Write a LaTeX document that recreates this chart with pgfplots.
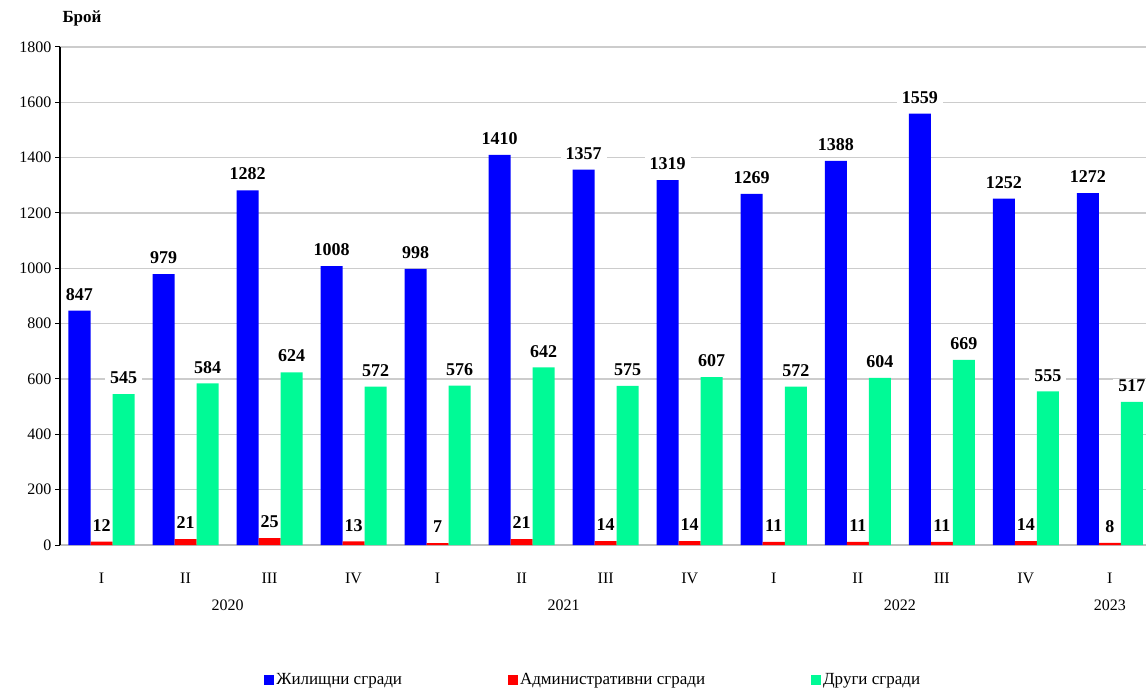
\documentclass[border=0pt]{standalone}
\usepackage{fontspec}
\setmainfont{Liberation Serif}
\usepackage{pgfplots}
\pgfplotsset{compat=1.18}
\definecolor{cBlue}{RGB}{0,0,255}
\definecolor{cRed}{RGB}{255,0,0}
\definecolor{cGreen}{RGB}{0,250,150}
\newcommand{\fs}{\fontsize{16}{19}\selectfont}
\newcommand{\fl}{\fontsize{18}{21}\selectfont}
\newcommand{\fg}{\fontsize{17}{20}\selectfont}
\begin{document}
\begin{tikzpicture}
\begin{axis}[
  scale only axis, width=1086pt, height=498pt,
  at={(0pt,0pt)}, anchor=south west,
  ybar=0pt, bar width=0.262,
  xmin=-0.494, xmax=12.43, ymin=0, ymax=1800,
  ytick={0,200,...,1800},
  xtick={0,...,12},
  xticklabels={I,II,III,IV,I,II,III,IV,I,II,III,IV,I},
  axis x line*=bottom, axis y line*=left,
  x axis line style={draw=gray!50, line width=1.3pt},
  y axis line style={draw=black, line width=1.3pt},
  major x tick style={draw=none},
  major y tick style={draw=black, line width=1pt},
  tick align=outside, major tick length=5pt,
  ymajorgrids, grid style={draw=gray!40, line width=1.3pt},
  /pgf/number format/assume math mode=true,
  /pgf/number format/1000 sep={},
  tick label style={font=\fs},
  xticklabel style={yshift=-19pt},
  nodes near coords,
  every node near coord/.append style={font=\bfseries\fl, fill=white, inner xsep=5pt, inner ysep=1pt, yshift=9pt},
  clip=false,
  legend columns=3,
  legend style={at={(0.491,-0.271)}, anchor=center, draw=none, font=\fg,
    /tikz/every even column/.append style={column sep=104pt}},
  legend image code/.code={\fill[#1] (0pt,-5pt) rectangle (10pt,5pt);},
]
\addplot[draw=none, fill=cBlue] coordinates {(0,847) (1,979) (2,1282) (3,1008) (4,998) (5,1410) (6,1357) (7,1319) (8,1269) (9,1388) (10,1559) (11,1252) (12,1272)};
\addplot[draw=none, fill=cRed, every node near coord/.append style={inner xsep=1pt}] coordinates {(0,12) (1,21) (2,25) (3,13) (4,7) (5,21) (6,14) (7,14) (8,11) (9,11) (10,11) (11,14) (12,8)};
\addplot[draw=none, fill=cGreen] coordinates {(0,545) (1,584) (2,624) (3,572) (4,576) (5,642) (6,575) (7,607) (8,572) (9,604) (10,669) (11,555) (12,517)};
\legend{Жилищни сгради, Административни сгради, Други сгради}
\node[font=\fs, yshift=-60pt] at (axis cs:1.5,0) {2020};
\node[font=\fs, yshift=-60pt] at (axis cs:5.5,0) {2021};
\node[font=\fs, yshift=-60pt] at (axis cs:9.5,0) {2022};
\node[font=\fs, yshift=-60pt] at (axis cs:12,0) {2023};
\end{axis}
\node[font=\bfseries\fg] at (22pt,527pt) {Брой};
\pgfresetboundingbox
\useasboundingbox (-60pt,-148pt) rectangle (1086pt,545pt);
\end{tikzpicture}
\end{document}
